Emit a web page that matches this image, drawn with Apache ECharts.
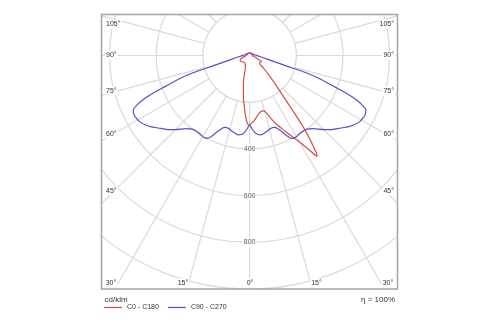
<!DOCTYPE html>
<html>
<head>
<meta charset="utf-8">
<script src="https://cdn.jsdelivr.net/npm/echarts@6/dist/echarts.min.js"></script>
<style>
  html, body { margin: 0; padding: 0; background: #fff; }
  #chart { width: 500px; height: 325px; }
</style>
</head>
<body>
<div id="chart"></div>
<script>
// Luminous intensity distribution (cd/klm), gamma measured from nadir.

// C0 half-plane (drawn to the right)
const gammaC0  = [0, 3, 6, 9, 12, 14, 16, 18, 20, 22, 24.5, 27, 29, 31, 32.5, 33.3, 33.8, 34.3, 35, 36, 37, 38, 39.5, 41, 44, 48, 52, 57, 62, 65, 69, 75, 90, 120, 180];
const valuesC0 = [296, 285, 268, 252, 244, 244, 252, 275, 300, 322, 350, 382, 412, 448, 485, 510, 520, 510, 478, 430, 375, 305, 228, 185, 126, 80, 55, 52, 58, 52, 33, 22, 12, 11, 11];

// C180 half-plane (drawn to the left)
const gammaC180  = [0, 1, 2.4, 4.5, 6.3, 7.9, 9.6, 12.6, 15, 17.2, 22, 30, 40, 50, 60, 66, 72, 80, 90, 120, 180];
const valuesC180 = [296, 297, 283, 248, 213, 192, 158, 122, 91, 65, 48, 39, 38, 42, 46, 44, 34, 22, 13, 11, 11];

// C90 half-plane (drawn to the right)
const gammaC90  = [0, 2, 4, 6, 8, 10, 13, 16, 19, 21, 23, 25, 27, 29.5, 32, 35, 38, 41, 45, 48, 51.5, 54, 56.5, 59, 62, 63.5, 64.9, 66.5, 67.75, 68.9, 69.8, 71.7, 72.9, 73.4, 74, 75.2, 77.6, 85.2, 90, 100, 120, 150, 180];
const valuesC90 = [297, 315, 331, 340, 343, 340, 333, 325, 326, 336, 355, 380, 398, 402, 398, 396, 400, 415, 449, 474, 499, 520, 537, 550, 556, 555, 550, 521, 484, 434, 386, 314, 259, 221, 176, 131, 86, 41, 30, 20, 14, 12, 11];

// C270 half-plane (drawn to the left)
const gammaC270  = [0, 2, 4, 6, 8, 10, 13, 16, 19, 21, 23, 25, 27, 29.5, 32, 35, 38, 41, 45, 48, 51.5, 54, 56.5, 59, 62, 63.5, 64.9, 66.5, 67.75, 68.9, 69.8, 71.7, 72.9, 73.4, 74, 75.2, 77.6, 85.2, 90, 100, 120, 150, 180];
const valuesC270 = [297, 315, 331, 340, 343, 340, 333, 325, 326, 336, 355, 380, 398, 402, 398, 396, 400, 415, 449, 474, 499, 520, 537, 550, 556, 555, 550, 521, 484, 434, 386, 314, 259, 221, 176, 131, 86, 41, 30, 20, 14, 12, 11];

// Intensity scale
const radiusTicks = [400, 600, 800];
const radiusMax = 1200;
const radiusStep = 200;

// Angle labels on the frame
const leftLabels   = ['105°', '90°', '75°', '60°', '45°'];
const rightLabels  = ['105°', '90°', '75°', '60°', '45°'];
const bottomLabels = ['30°', '15°', '0°', '15°', '30°'];

const seriesNames = ['C0 - C180', 'C90 - C270'];
const RED = '#d84a4a';
const BLUE = '#5252c4';
const GRID = '#dadada';
const TEXT = '#333';
const FAMILY = "'Liberation Sans', Arial, sans-serif";
const FONT = '7px ' + FAMILY;

// Combine two half-planes into one polar trace: [intensity, angle]
function plane(gLeft, vLeft, gRight, vRight) {
  const pts = [];
  for (let i = gLeft.length - 1; i >= 0; i--) pts.push([vLeft[i], -gLeft[i]]);
  for (let i = 1; i < gRight.length; i++) pts.push([vRight[i], gRight[i]]);
  return pts;
}

// Radial grid lines every 15°, from the innermost circle outwards
const spokeSeries = [];
for (let a = -165; a <= 180; a += 15) {
  spokeSeries.push({
    type: 'line', coordinateSystem: 'polar', silent: true, animation: false,
    symbol: 'none', data: [[radiusStep, a], [radiusMax, a]],
    lineStyle: { color: GRID, width: 1.2 }
  });
}

const chart = echarts.init(document.getElementById('chart'), null, { renderer: 'canvas' });

// frame
const box = { x: 101.5, y: 14.5, w: 296, h: 274.5 };

function label(text, x, y, align) {
  return {
    type: 'text', z: 30, x: x, y: y,
    style: {
      text: text, font: FONT, fill: TEXT, align: align, verticalAlign: 'middle',
      backgroundColor: '#fff', padding: [1, 1]
    }
  };
}

const leftY = [24, 55.5, 91, 134, 191];
const bottomX = [111, 183, 250, 316.5, 388];
const graphics = [
  // white margins hide grid outside the frame
  { type: 'rect', z: 10, shape: { x: 0, y: 0, width: 500, height: box.y }, style: { fill: '#fff' } },
  { type: 'rect', z: 10, shape: { x: 0, y: 0, width: box.x, height: 325 }, style: { fill: '#fff' } },
  { type: 'rect', z: 10, shape: { x: box.x + box.w, y: 0, width: 500, height: 325 }, style: { fill: '#fff' } },
  { type: 'rect', z: 10, shape: { x: 0, y: box.y + box.h, width: 500, height: 60 }, style: { fill: '#fff' } },
  { type: 'rect', z: 15, shape: { x: box.x, y: box.y, width: box.w, height: box.h },
    style: { fill: 'none', stroke: '#a4a4a4', lineWidth: 1.5 } }
];
leftLabels.forEach((t, i) => graphics.push(label(t, 105, leftY[i], 'left')));
rightLabels.forEach((t, i) => graphics.push(label(t, 395, leftY[i], 'right')));
bottomLabels.forEach((t, i) => graphics.push(label(t, bottomX[i], 283, 'center')));
graphics.push({ type: 'text', z: 30, x: 104.5, y: 299.5,
  style: { text: 'cd/klm', font: '8px ' + FAMILY, fill: TEXT, align: 'left', verticalAlign: 'middle' } });
graphics.push({ type: 'text', z: 30, x: 395, y: 299.5,
  style: { text: 'η = 100%', font: '8px ' + FAMILY, fill: TEXT, align: 'right', verticalAlign: 'middle' } });

chart.setOption({
  animation: false,
  backgroundColor: '#fff',
  polar: { center: [249.6, 55.5], radius: 280.2 },
  angleAxis: {
    type: 'value', min: -180, max: 180, startAngle: 90, clockwise: false,
    axisLine: { show: false }, axisTick: { show: false }, axisLabel: { show: false },
    splitLine: { show: false }
  },
  radiusAxis: {
    type: 'value', min: 0, max: radiusMax, interval: radiusStep,
    axisLine: { show: false }, axisTick: { show: false }, axisLabel: { show: false },
    splitLine: { show: true, lineStyle: { color: GRID, width: 1.2 } }
  },
  legend: {
    z: 20, left: 104, top: 304, itemWidth: 18, itemHeight: 1.2, itemGap: 9,
    padding: 0, icon: 'rect',
    data: seriesNames,
    textStyle: { fontFamily: FAMILY, fontSize: 7, color: TEXT },
    selectedMode: false
  },
  graphic: graphics,
  series: spokeSeries.concat([
    {
      type: 'scatter', coordinateSystem: 'polar', silent: true, symbolSize: 1, z: 3,
      itemStyle: { color: 'rgba(0,0,0,0)' },
      data: radiusTicks.map(v => [v, 0]),
      label: {
        show: true, position: 'inside', formatter: p => String(p.value[0]),
        fontFamily: FAMILY, fontSize: 7, color: TEXT,
        backgroundColor: '#fff', padding: [1, 1]
      }
    },
    {
      name: seriesNames[1], type: 'line', coordinateSystem: 'polar', symbol: 'none', smooth: 0.2, z: 4,
      data: plane(gammaC270, valuesC270, gammaC90, valuesC90),
      lineStyle: { color: BLUE, width: 1.2 }, itemStyle: { color: BLUE }
    },
    {
      name: seriesNames[0], type: 'line', coordinateSystem: 'polar', symbol: 'none', smooth: 0.2, z: 4,
      data: plane(gammaC180, valuesC180, gammaC0, valuesC0),
      lineStyle: { color: RED, width: 1.2 }, itemStyle: { color: RED }
    }
  ])
});
</script>
</body>
</html>
